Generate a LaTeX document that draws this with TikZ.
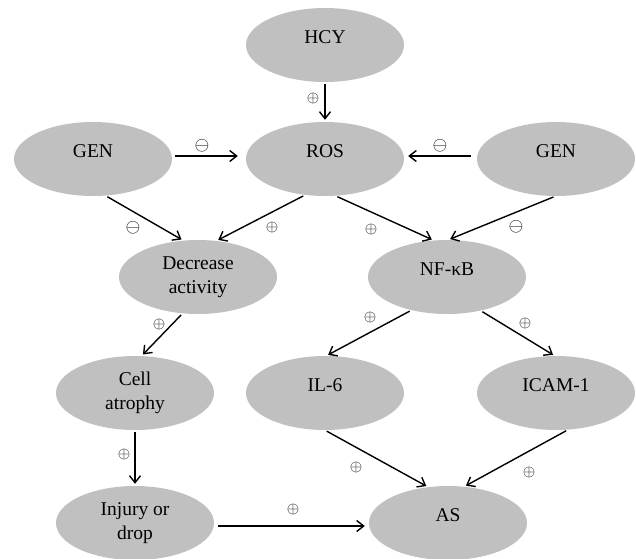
\RequirePackage{fix-cm}
\documentclass[tikz,border=0pt]{standalone}
\usepackage{fontspec}
\setmainfont{Liberation Serif}
\usetikzlibrary{shapes.geometric,arrows.meta}
\definecolor{ellgray}{RGB}{192,192,192}
\tikzset{
  ell/.style={ellipse, fill=ellgray, draw=none, minimum width=158pt, minimum height=74pt,
    inner sep=0pt, font=\fontsize{19.5}{23.5}\selectfont, align=center},
  one/.style={text height=13pt, text depth=17pt},
  conn/.style={line width=1.4pt, -{Straight Barb[length=7pt,width=11pt,line width=1.4pt]},
    shorten <=2pt, shorten >=2pt},
  plus/.style={inner sep=0pt, font=\fontsize{16}{16}\selectfont},
  minus/.style={inner sep=0pt, font=\fontsize{19}{19}\selectfont}
}
\begin{document}
\begin{tikzpicture}[x=1pt,y=-1pt]
\useasboundingbox (0,0) rectangle (636,558);
% nodes
\node[ell,one] (hcy)  at (325,45)  {HCY};
\node[ell,one] (genl) at (93,159)  {GEN};
\node[ell,one] (ros)  at (325,159) {ROS};
\node[ell,one] (genr) at (556,159) {GEN};
\node[ell]     (dec)  at (198,277) {Decrease\\activity};
\node[ell,one] (nfkb) at (447,277) {NF-κB};
\node[ell]     (cell) at (135,393) {Cell\\atrophy};
\node[ell,one] (il6)  at (325,393) {IL-6};
\node[ell,one] (icam) at (556,393) {ICAM-1};
\node[ell]     (inj)  at (135,523) {Injury or\\drop};
\node[ell,one] (as)   at (448,523) {AS};
% connectors
\draw[conn] (hcy.south) -- (ros.north);
\draw[conn, shorten <=3pt, shorten >=8pt] ([yshift=3pt]genl.east) -- ([yshift=3pt]ros.west);
\draw[conn, shorten <=6pt, shorten >=4pt] ([yshift=3pt]genr.west) -- ([yshift=3pt]ros.east);
\draw[conn] (genl.-71) -- (dec.112);
\draw[conn] (ros.-119) -- (dec.63);
\draw[conn] (ros.-74) -- (nfkb.110);
\draw[conn] (genr.-91) -- (nfkb.88);
\draw[conn] (dec.-113) -- (cell.80);
\draw[conn] (cell.south) -- (inj.north);
\draw[conn, shorten <=4pt, shorten >=4pt] ([yshift=-3pt]inj.east) -- ([yshift=-3pt]as.west);
\draw[conn] (nfkb.-137) -- (il6.88);
\draw[conn] (nfkb.-45) -- (icam.92);
\draw[conn] (il6.-90) -- (as.119);
\draw[conn] (icam.-72) -- (as.66);
% labels
\node[plus]  (l1)  at (313,98)  {$\oplus$};
\node[minus] (l2)  at (202,146) {$\ominus$};
\node[minus] (l3)  at (440,146) {$\ominus$};
\node[minus] (l4)  at (133,228) {$\ominus$};
\node[plus]  (l5)  at (272,227) {$\oplus$};
\node[plus]  (l6)  at (371,229) {$\oplus$};
\node[minus] (l7)  at (516,227) {$\ominus$};
\node[plus]  (l8)  at (159,324) {$\oplus$};
\node[plus]  (l9)  at (370,317) {$\oplus$};
\node[plus]  (l10) at (525,323) {$\oplus$};
\node[plus]  (l11) at (124,454) {$\oplus$};
\node[plus]  (l12) at (356,467) {$\oplus$};
\node[plus]  (l13) at (529,472) {$\oplus$};
\node[plus]  (l14) at (293,509) {$\oplus$};
\end{tikzpicture}
\end{document}
